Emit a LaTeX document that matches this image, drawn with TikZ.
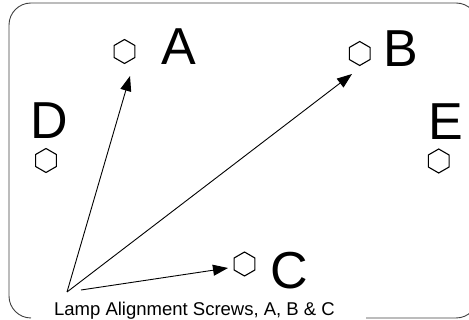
\documentclass[tikz,border=0pt]{standalone}
\usepackage{fontspec}
\setmainfont{Liberation Sans}
\usetikzlibrary{shapes.geometric,arrows.meta}

\begin{document}
\begin{tikzpicture}[x=1pt,y=-1pt,
	screw/.style={draw,line width=1.1pt,regular polygon,regular polygon sides=6,regular polygon rotate=30,minimum size=24pt,inner sep=0pt},
	letter/.style={inner sep=0pt,font=\fontsize{52}{52}\selectfont},
	pointer/.style={line width=0.9pt,-{Triangle[length=15pt,width=11pt]}}]
		\useasboundingbox (0,0) rectangle (469,320);
		\clip (0,0) rectangle (469,320);

		% Frame
		\draw[black!75,line width=0.9pt,rounded corners=22pt] (366,318) -- (478,318) -- (478,3) -- (9,3) -- (9,318) -- (31,318);

		% Screws
		\node[screw] (hexA) at (124.5,51.5) {};
		\node[screw] (hexB) at (359.7,53.5) {};
		\node[screw] (hexC) at (244.5,264) {};
		\node[screw] (hexD) at (46,160.5) {};
		\node[screw] (hexE) at (438.7,161) {};

		% Letters
		\node[letter] (labA) at (179,47) {A};
		\node[letter] (labB) at (401,48.5) {B};
		\node[letter] (labC) at (289,270.5) {C};
		\node[letter] (labD) at (49,121) {D};
		\node[letter] (labE) at (445.5,121.5) {E};

		% Pointers
		\coordinate (src) at (67,292);
		\coordinate (srcC) at (81,290);
		\coordinate (tipA) at (130,76);
		\coordinate (tipB) at (352,74);
		\coordinate (tipC) at (228,268);
		\draw[pointer] (src) -- (tipA);
		\draw[pointer] (src) -- (tipB);
		\draw[pointer] (srcC) -- (tipC);

		% Caption
		\node[anchor=base,inner sep=0pt,font=\fontsize{18.5}{20}\selectfont] (caption) at (194.5,315.3) {Lamp Alignment Screws, A, B \& C};
\end{tikzpicture}
\end{document}
